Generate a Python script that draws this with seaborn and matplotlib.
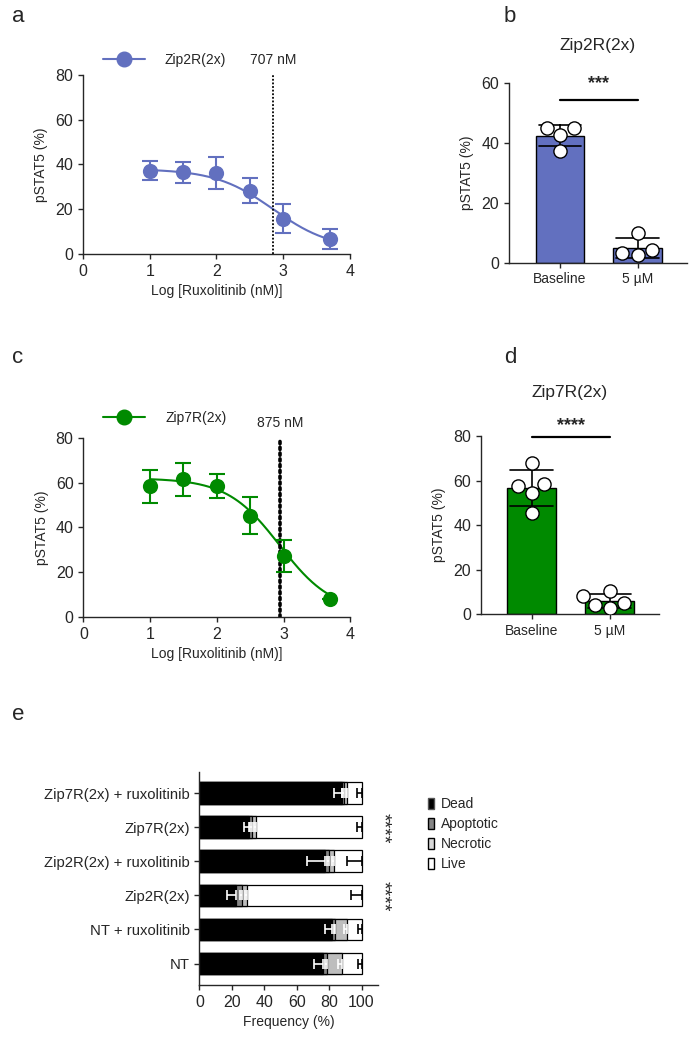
import numpy as np
import pandas as pd
import seaborn as sns
import matplotlib.pyplot as plt
from matplotlib.lines import Line2D
from matplotlib.patches import Patch

# ---- dose response (a, c) ----
log_dose = [1, 1.5, 2, 2.5, 3, 3.7]
zip2_mean = [37.2, 36.5, 36.3, 28.2, 15.8, 6.7]
zip2_sd = [4.3, 4.6, 7.2, 5.6, 6.6, 4.3]
zip7_mean = [58.4, 61.5, 58.6, 45.2, 27.3, 7.9]
zip7_sd = [7.5, 7.3, 5.5, 8.3, 7.1, 0.0]
# fitted curve params: bottom, top, logIC50, hill
zip2_fit = [2.0, 38.0, np.log10(707), 1.0]
zip7_fit = [2.0, 62.0, np.log10(875), 1.1]

# ---- baseline vs 5 uM (b, d) ----
groups = ['Baseline', '5 µM']
zip2_base = [45.0, 45.0, 42.7, 37.3]
zip2_5um = [2.6, 4.2, 9.8, 3.1]
zip7_base = [68.0, 58.4, 57.5, 54.5, 45.5]
zip7_5um = [10.3, 8.1, 4.8, 4.0, 2.5]

# ---- cell fate (e) ----
e_labels = ['Zip7R(2x) + ruxolitinib', 'Zip7R(2x)', 'Zip2R(2x) + ruxolitinib',
            'Zip2R(2x)', 'NT + ruxolitinib', 'NT']
dead = [87.7, 30.8, 77.4, 22.6, 82.1, 76.0]
apoptotic = [1.4, 1.4, 2.6, 3.9, 1.5, 2.9]
necrotic = [2.1, 2.5, 3.0, 2.7, 7.2, 8.8]
live = [8.8, 65.3, 17.0, 70.8, 9.2, 12.3]
dead_sd = [4.7, 3.1, 10.9, 5.4, 4.7, 5.4]
apop_sd = [1.0, 0.8, 1.2, 1.2, 0.8, 1.2]
necr_sd = [0.8, 0.8, 1.0, 0.8, 1.8, 2.5]
live_sd = [3.0, 2.8, 9.0, 6.2, 2.0, 2.2]

blue = '#6270bf'
green = '#008a00'

sns.set_style('ticks')
plt.rcParams['font.family'] = ['Liberation Sans', 'DejaVu Sans']
plt.rcParams['font.size'] = 10
plt.rcParams['axes.linewidth'] = 1.0
plt.rcParams['xtick.major.size'] = 3.5
plt.rcParams['ytick.major.size'] = 3.5
plt.rcParams['xtick.major.width'] = 1.0
plt.rcParams['ytick.major.width'] = 1.0
plt.rcParams['xtick.labelsize'] = 11.5
plt.rcParams['ytick.labelsize'] = 11.5

fig = plt.figure(figsize=(6.95, 10.5), dpi=100)
ax_a = fig.add_axes([0.1194, 0.7581, 0.3842, 0.1705])
ax_b = fig.add_axes([0.7324, 0.7498, 0.2561, 0.1709])
ax_c = fig.add_axes([0.1199, 0.4124, 0.3842, 0.1705])
ax_d = fig.add_axes([0.6917, 0.4152, 0.2565, 0.1695])
ax_e = fig.add_axes([0.2868, 0.0619, 0.2567, 0.2031])


def dose_panel(ax, mean, sd, fit, color, label, ic50_txt, vline_kw, leg_y, txt_y):
    xs = np.linspace(log_dose[0], log_dose[-1], 200)
    bottom, top, logic50, hill = fit
    curve = bottom + (top - bottom) / (1 + 10 ** ((xs - logic50) * hill))
    sns.lineplot(x=xs, y=curve, color=color, lw=1.5, ax=ax)
    ax.errorbar(log_dose, mean, yerr=sd, fmt='none', ecolor=color,
                elinewidth=1.5, capsize=6, capthick=1.5, zorder=3)
    sns.scatterplot(x=log_dose, y=mean, color=color, s=120, linewidth=0,
                    zorder=4, ax=ax)
    ax.axvline(logic50, color='black', zorder=2, **vline_kw)
    ax.set_xlim(0, 4)
    ax.set_ylim(0, 80)
    ax.set_xticks([0, 1, 2, 3, 4])
    ax.set_yticks([0, 20, 40, 60, 80])
    ax.set_xlabel('Log [Ruxolitinib (nM)]', fontsize=10)
    ax.set_ylabel('pSTAT5 (%)', fontsize=10, labelpad=5)
    sns.despine(ax=ax)
    h = Line2D([], [], color=color, marker='o', markersize=10.5, lw=1.5)
    ax.legend([h], [label], loc='center left', bbox_to_anchor=(0.054, leg_y),
              frameon=False, handlelength=3.0, handletextpad=1.45,
              borderaxespad=0, fontsize=10)
    ax.text(logic50, txt_y, ic50_txt, transform=ax.get_xaxis_transform(),
            ha='center', va='center', fontsize=10)


dose_panel(ax_a, zip2_mean, zip2_sd, zip2_fit, blue, 'Zip2R(2x)', '707 nM',
           dict(lw=1.3, ls=(0, (1, 1))), 1.084, 1.084)
dose_panel(ax_c, zip7_mean, zip7_sd, zip7_fit, green, 'Zip7R(2x)', '875 nM',
           dict(lw=2.6, ls=(0, (0.6, 1.0)), dash_capstyle='round'), 1.11, 1.082)


def bar_panel(ax, base, treat, color, title, stars, ymax, sig_y, star_y, yticks, tpad):
    df = pd.DataFrame({'group': [groups[0]] * len(base) + [groups[1]] * len(treat),
                       'value': base + treat})
    sns.barplot(data=df, x='group', y='value', order=groups, errorbar='sd',
                color=color, saturation=1, width=0.63, edgecolor='black',
                linewidth=1.0, capsize=0.55,
                err_kws={'color': 'black', 'linewidth': 1.2}, ax=ax)
    sns.swarmplot(data=df, x='group', y='value', order=groups, size=9.5,
                  color='white', edgecolor='black', linewidth=1.0, zorder=4, ax=ax)
    ax.set_xlim(-0.656, 1.634)
    ax.set_ylim(0, ymax)
    ax.set_yticks(yticks)
    ax.tick_params(axis='x', labelsize=10)
    ax.set_xlabel('')
    ax.set_ylabel('pSTAT5 (%)', fontsize=10, labelpad=5)
    sns.despine(ax=ax)
    ax.plot([0, 1], [sig_y, sig_y], color='black', lw=1.6, clip_on=False)
    ax.text(0.5, star_y, stars, ha='center', va='center', fontsize=13,
            fontweight='bold')
    ax.set_title(title, fontsize=12.5, pad=tpad)


bar_panel(ax_b, zip2_base, zip2_5um, blue, 'Zip2R(2x)', '***', 60, 54.4, 60.0,
          [0, 20, 40, 60], 24)
bar_panel(ax_d, zip7_base, zip7_5um, green, 'Zip7R(2x)', '****', 80, 79.6, 84.5,
          [0, 20, 40, 60, 80], 28)

# ---- e: stacked horizontal bars ----
dead_a = np.array(dead)
apop_end = dead_a + np.array(apoptotic)
necr_end = apop_end + np.array(necrotic)
live_end = necr_end + np.array(live)
layers = [(live_end, 'white'), (necr_end, '#bdbdbd'), (apop_end, '#858585'),
          (dead_a, 'black')]
for vals, col in layers:
    sns.barplot(x=vals, y=e_labels, orient='h', color=col, saturation=1,
                width=0.64, edgecolor='black', linewidth=0.9, ax=ax_e)
pos = np.arange(len(e_labels))
zeros = np.zeros(len(e_labels))
for ends, sd, col in [(dead_a, dead_sd, 'white'), (apop_end, apop_sd, 'white'),
                      (necr_end, necr_sd, 'white'), (np.full(6, 100.0), live_sd, 'black')]:
    ax_e.errorbar(ends, pos, xerr=[sd, zeros], fmt='none', ecolor=col,
                  elinewidth=1.2, capsize=3.5, capthick=1.2, zorder=5)
ax_e.set_xlim(0, 110)
ax_e.set_ylim(5.63, -0.63)
ax_e.set_xticks([0, 20, 40, 60, 80, 100])
ax_e.tick_params(axis='y', labelsize=10.7)
ax_e.set_xlabel('Frequency (%)', fontsize=10)
ax_e.set_ylabel('')
sns.despine(ax=ax_e)

leg_handles = [Patch(facecolor='black', edgecolor='#555555'),
               Patch(facecolor='#858585', edgecolor='black'),
               Patch(facecolor='#d9d9d9', edgecolor='black'),
               Patch(facecolor='white', edgecolor='black')]
fig.legend(leg_handles, ['Dead', 'Apoptotic', 'Necrotic', 'Live'],
           loc='upper left', bbox_to_anchor=(0.598, 0.2525), frameon=False,
           fontsize=10, handlelength=0.42, handleheight=0.85, handletextpad=0.5,
           labelspacing=0.42)
for y in [828, 896]:
    fig.text(383 / 695, 1 - y / 1050, '****', rotation=270, ha='center',
             va='center', fontsize=14)

# panel letters
for letter, x, y in [('a', 18, 17), ('b', 510, 17), ('c', 18, 357),
                     ('d', 510, 357), ('e', 18, 715)]:
    fig.text(x / 695, 1 - y / 1050, letter, fontsize=16, ha='center', va='center')

fig.savefig('out.png', dpi=100)
